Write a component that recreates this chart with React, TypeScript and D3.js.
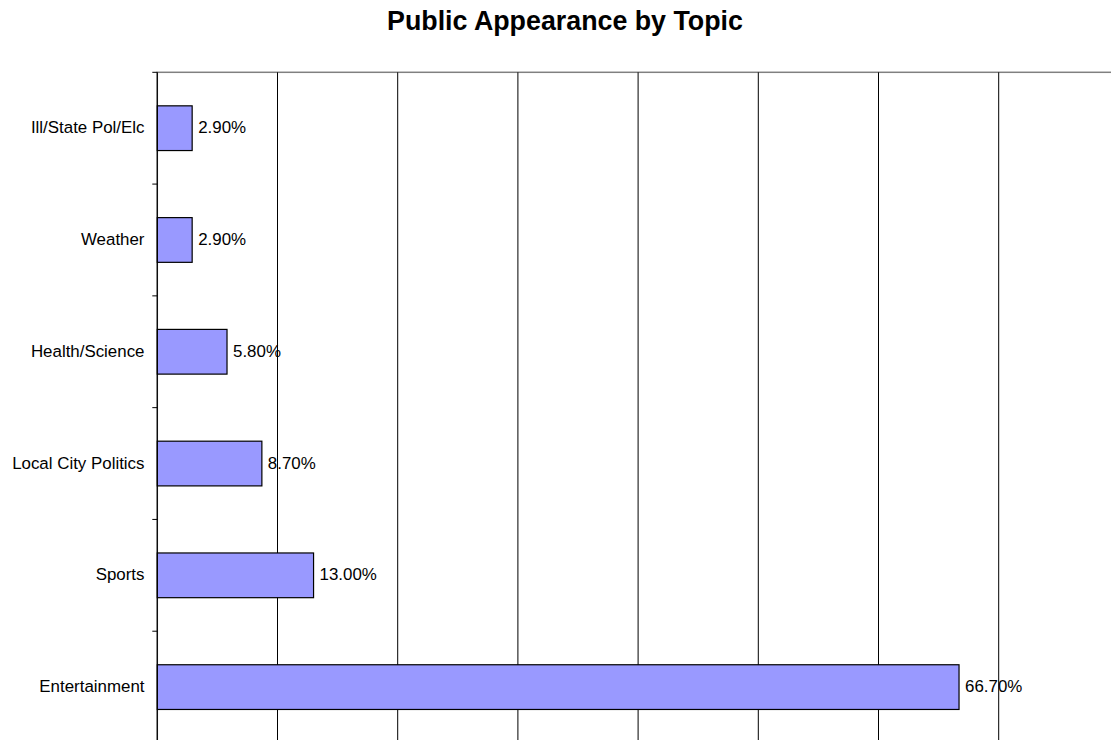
import React from "react";
import * as d3 from "d3";

const categories = ["Ill/State Pol/Elc", "Weather", "Health/Science", "Local City Politics", "Sports", "Entertainment"];
const values = [2.9, 2.9, 5.8, 8.7, 13.0, 66.7];
const xTicks = [0, 10, 20, 30, 40, 50, 60, 70, 80];
const title = "Public Appearance by Topic";

const W = 1111;
const H = 740;
const plotLeft = 157.3;
const plotRight = 1118.9;
const plotTop = 72.3;
const plotBottom = 743;

export default function App() {
  const x = d3.scaleLinear().domain([0, 80]).range([plotLeft, plotRight]);
  const y = d3.scaleBand<string>().domain(categories).range([plotTop, plotBottom]).paddingInner(0.6).paddingOuter(0.3);
  const step = y.step();
  const font = "'Liberation Sans', Arial, sans-serif";
  return (
    <svg width={W} height={H} style={{ position: "absolute", left: 0, top: 0, background: "#fff" }}>
      <text x={565} y={30} textAnchor="middle" fontFamily={font} fontWeight="bold" fontSize={26.8} fill="#000">{title}</text>
      <rect x={plotLeft} y={plotTop} width={plotRight - plotLeft} height={plotBottom - plotTop} fill="none" stroke="#808080" strokeWidth={1.5} />
      {xTicks.filter(t => t > 0).map(t => (
        <line key={t} x1={x(t)} x2={x(t)} y1={plotTop} y2={plotBottom} stroke="#000" strokeWidth={1} />
      ))}
      {categories.map((c, i) => (
        <g key={c}>
          <rect x={x(0)} y={y(c)!} width={x(values[i]) - x(0)} height={y.bandwidth()} fill="#9999FF" stroke="#000" strokeWidth={1.2} />
          <text x={x(values[i]) + 6} y={y(c)! + y.bandwidth() / 2} dy="0.3em" fontFamily={font} fontSize={16.9} fill="#000">{values[i].toFixed(2) + "%"}</text>
          <text x={144.5} y={y(c)! + y.bandwidth() / 2} dy="0.3em" textAnchor="end" fontFamily={font} fontSize={16.9} fill="#000">{c}</text>
        </g>
      ))}
      <line x1={plotLeft} x2={plotLeft} y1={plotTop} y2={plotBottom} stroke="#000" strokeWidth={1.2} />
      {d3.range(categories.length + 1).map(i => (
        <line key={i} x1={plotLeft - 5} x2={plotLeft} y1={plotTop + i * step} y2={plotTop + i * step} stroke="#000" strokeWidth={1} />
      ))}
    </svg>
  );
}
